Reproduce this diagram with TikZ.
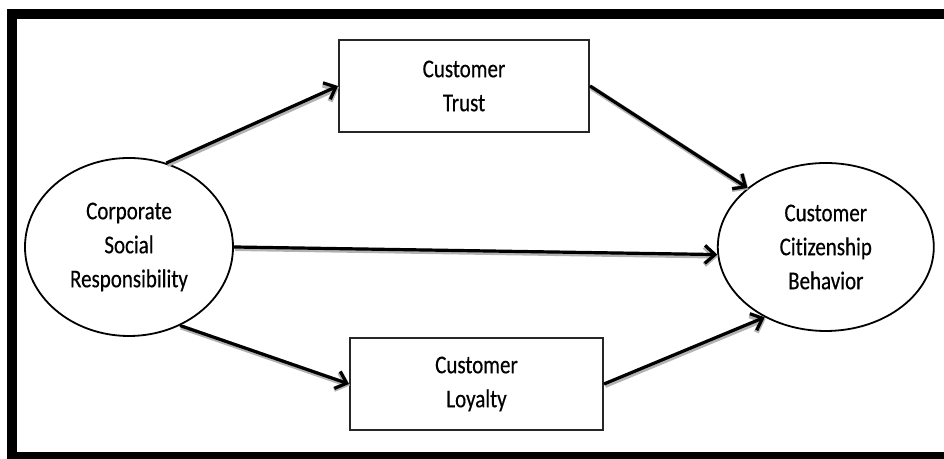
\documentclass[tikz,border=0pt]{standalone}
\usepackage{fontspec}
\setmainfont{Carlito}[FakeStretch=0.82, Ligatures=CommonOff, FakeBold=0.4]
\usetikzlibrary{shapes.geometric,arrows.meta,positioning}

\tikzset{
  construct/.style={ellipse, draw, line width=0.9pt, inner sep=0pt, align=center,
    font=\fontsize{12.8}{17}\selectfont},
  mediator/.style={rectangle, draw=black!85, line width=1pt, minimum height=46pt,
    inner sep=0pt, align=center, font=\fontsize{12.8}{17}\selectfont},
  path arrow/.style={draw, line width=1.6pt, -{Straight Barb[length=5pt,width=9pt]},
    preaction={draw=black!30, line width=2.6pt, transform canvas={shift={(0.5pt,-0.7pt)}}}}
}

\begin{document}
\begin{tikzpicture}[x=0.5pt,y=0.5pt]
    \useasboundingbox (0,0) rectangle (944,459);
    \clip (0,0) rectangle (944,459);
    % outer frame (open on the right)
    \draw[line width=5pt] (11.5,2) rectangle (970,445);

    \node[construct, minimum width=104pt, minimum height=89pt] (csr) at (129,212) {Corporate\\Social\\Responsibility};
    \node[construct, minimum width=108pt, minimum height=84pt, right=241.5pt of csr] (ccb) {Customer\\Citizenship\\Behavior};
    \node[mediator, minimum width=125pt] (trust) at (464,373) {Customer\\Trust};
    \node[mediator, minimum width=126.5pt] (loyalty) at (476.5,75) {Customer\\Loyalty};

    \path[every edge/.style={path arrow}]
    (csr.66) edge (trust.west)
    (trust.east) edge (ccb.143)
    (csr.east) edge (ccb.184)
    (csr.303) edge (loyalty.west)
    (loyalty.east) edge (ccb.229)
    ;
\end{tikzpicture}
\end{document}
